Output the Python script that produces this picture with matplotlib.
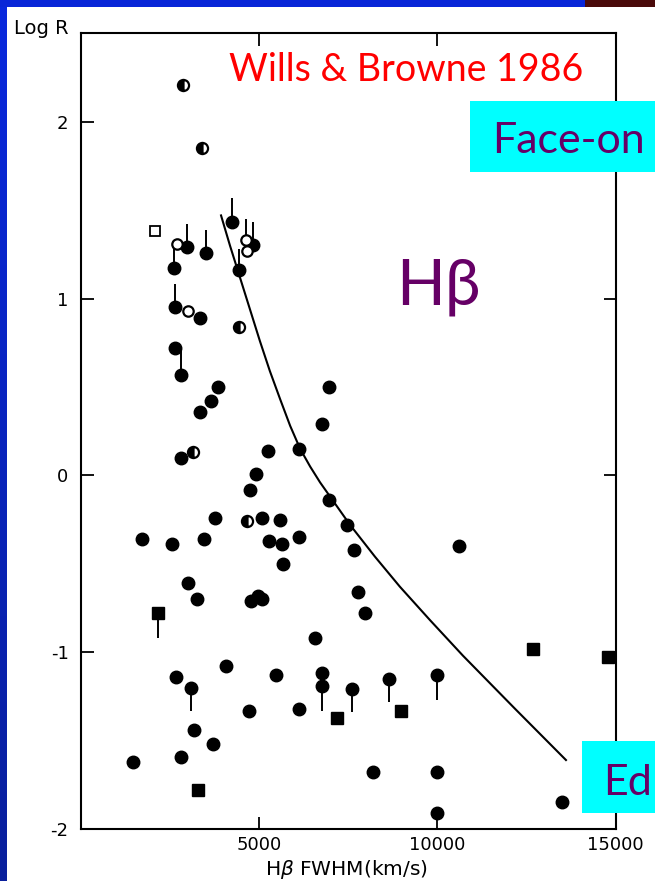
import numpy as np
import matplotlib
matplotlib.use("Agg")
import matplotlib.pyplot as plt
from matplotlib.patches import Rectangle

# ---------------- data: H-beta FWHM (km/s) vs log R ----------------
fwhm_filled = [2970, 3510, 4230, 4840, 4430, 2610, 2630, 3340, 2640, 2810,
               3850, 3650, 3340, 6970, 6760, 2800, 5260, 6120, 4910, 4740,
               6970, 3760, 5070, 5590, 7460, 1720, 2550, 3450, 5280, 5640,
               6110, 7670, 5670, 3000, 3260, 4770, 4980, 5090, 7770, 7970,
               10620, 6570, 2670, 3090, 4070, 5470, 6760, 6760, 7600, 8630,
               9980, 4720, 6130, 3170, 3700, 1470, 2820, 8190, 10000, 10000,
               13490]
logr_filled = [1.29, 1.26, 1.43, 1.30, 1.16, 1.17, 0.95, 0.89, 0.72, 0.57,
               0.50, 0.42, 0.36, 0.50, 0.29, 0.10, 0.14, 0.15, 0.01, -0.08,
               -0.14, -0.24, -0.24, -0.25, -0.28, -0.36, -0.39, -0.36, -0.37, -0.39,
               -0.35, -0.42, -0.50, -0.61, -0.70, -0.71, -0.68, -0.70, -0.66, -0.78,
               -0.40, -0.92, -1.14, -1.20, -1.08, -1.13, -1.12, -1.19, -1.21, -1.15,
               -1.13, -1.33, -1.32, -1.44, -1.52, -1.62, -1.59, -1.68, -1.68, -1.91,
               -1.85]

fwhm_open = [2700, 4620, 4650, 3010]
logr_open = [1.31, 1.33, 1.27, 0.93]

fwhm_half = [2870, 3390, 4440, 3150, 4650]
logr_half = [2.21, 1.85, 0.84, 0.13, -0.26]

fwhm_sq = [2150, 3290, 7180, 8970, 12680, 14800]
logr_sq = [-0.78, -1.78, -1.37, -1.33, -0.98, -1.03]

fwhm_open_sq = [2080]
logr_open_sq = [1.38]

# limit bars attached to points
lim_fwhm = [2970, 3510, 4230, 4840, 4430, 2610, 2630, 2810, 4620,
            3090, 6760, 7600, 8630, 9980, 2150]
lim_from = [1.29, 1.26, 1.43, 1.30, 1.16, 1.17, 0.95, 0.57, 1.33,
            -1.20, -1.19, -1.21, -1.15, -1.13, -0.78]
lim_to = [1.42, 1.39, 1.57, 1.43, 1.28, 1.30, 1.08, 0.71, 1.45,
          -1.33, -1.33, -1.34, -1.28, -1.27, -0.92]

# model curve
curve_fwhm = [3930, 4180, 4460, 4740, 5020, 5300, 5590, 5870, 6150, 6430,
              6710, 6990, 7270, 7550, 8250, 8950, 9800, 10720, 12180, 13610]
curve_logr = [1.47, 1.30, 1.12, 0.94, 0.76, 0.59, 0.43, 0.28, 0.15, 0.05,
              -0.04, -0.12, -0.20, -0.28, -0.46, -0.63, -0.82, -1.02, -1.32, -1.61]

x_ticks = [5000, 10000, 15000]
x_ticklabels = ["5000", "10000", "15000"]
y_ticks = [-2, -1, 0, 1, 2]
y_ticklabels = ["-2", "-1", "0", "1", "2"]

W, H = 655, 881
fig = plt.figure(figsize=(W / 100, H / 100), dpi=100)
fig.patch.set_facecolor("white")

ax = fig.add_axes([81 / W, 1 - 829 / H, (615.5 - 81) / W, (829 - 33.3) / H])
ax.set_xlim(0, 15000)
ax.set_ylim(-2, 2.5)
for s in ax.spines.values():
    s.set_linewidth(1.5)
    s.set_color("black")

ink = "black"
ax.vlines(lim_fwhm, lim_from, lim_to, colors=ink, linewidth=1.4, zorder=2)
ax.plot(curve_fwhm, curve_logr, color=ink, linewidth=1.5, zorder=2,
        solid_joinstyle="round")
ax.plot(fwhm_filled, logr_filled, "o", ms=9, color=ink, mec=ink, zorder=3)
ax.plot(fwhm_open, logr_open, "o", ms=7.5, mfc="white", mec=ink, mew=1.6, zorder=3)
ax.plot(fwhm_half, logr_half, "o", ms=8, fillstyle="left", mfc=ink,
        mfcalt="white", mec=ink, mew=1.6, zorder=3)
ax.plot(fwhm_sq, logr_sq, "s", ms=8, color=ink, zorder=3, clip_on=False)
ax.plot(fwhm_open_sq, logr_open_sq, "s", ms=7, mfc="white", mec=ink, mew=1.3, zorder=3)

tick_font = dict(family="DejaVu Sans", size=13)
ax.set_xticks(x_ticks)
ax.set_xticklabels(x_ticklabels, fontdict=tick_font)
ax.set_yticks(y_ticks)
ax.set_yticklabels(y_ticklabels, fontdict=tick_font)
ax.tick_params(axis="both", direction="in", length=9, width=1.3,
               top=True, right=True, colors=ink)
ax.tick_params(axis="x", pad=5)
ax.tick_params(axis="y", pad=9)
ax.set_xlabel(r"H$\beta$ FWHM(km/s)", fontsize=14.5, family="DejaVu Sans", labelpad=2)
ax.xaxis.set_label_coords(0.497, -0.036)

# slide overlay: frame strips, title and captions
deco = fig.add_axes([0, 0, 1, 1], zorder=5)
deco.set_xlim(0, W)
deco.set_ylim(H, 0)
deco.axis("off")
deco.patch.set_alpha(0)

grad = np.linspace(0, 1, 256).reshape(-1, 1)
blue = matplotlib.colors.LinearSegmentedColormap.from_list(
    "slideblue", ["#0829de", "#0a1f9c"])
deco.imshow(grad, cmap=blue, extent=(0, 7, H, 0), aspect="auto", zorder=1)
deco.add_patch(Rectangle((0, 0), 585, 7, color="#0826d8", zorder=1, lw=0))
deco.add_patch(Rectangle((585, 0), 70, 7, color="#4a0a0a", zorder=1, lw=0))

deco.text(14, 28, "Log R", fontsize=14, family="DejaVu Sans", color=ink,
          ha="left", va="center")

deco.text(406, 70, "Wills & Browne 1986", color="#ff0000", fontsize=27,
          family="Lato", ha="center", va="center")

deco.add_patch(Rectangle((470, 101), 200, 71, color="#00ffff", zorder=2, lw=0))
deco.text(492, 153, "Face-on", color="#660066", fontsize=31, family="Lato",
          ha="left", va="baseline", zorder=3)

deco.add_patch(Rectangle((582, 741), 100, 72, color="#00ffff", zorder=2, lw=0))
deco.text(603, 795, "Ed", color="#660066", fontsize=31, family="Lato",
          ha="left", va="baseline", zorder=3)

deco.text(396, 304, "H\u03b2", color="#660066", fontsize=46, family="Lato",
          ha="left", va="baseline", zorder=3)

fig.savefig("out.png", dpi=100)
